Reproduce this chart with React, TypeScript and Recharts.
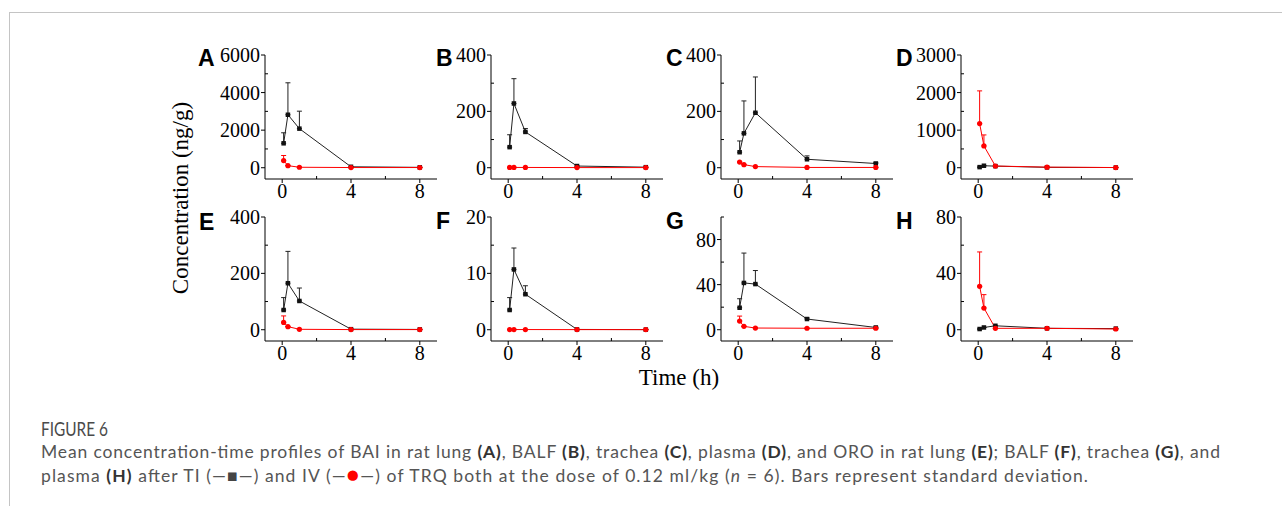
import React from "react";
import { LineChart, Line, XAxis, YAxis, ErrorBar } from "recharts";

// sampling times (h)
const TIMES = [0.083, 0.333, 1, 4, 8];

// BAI: TI (black) and IV (red), mean and SD
const baiLungTi = [1300, 2820, 2080, 50, 20];
const baiLungTiSd = [560, 1700, 930, 0, 0];
const baiLungIv = [380, 110, 25, 10, 10];
const baiLungIvSd = [270, 0, 0, 0, 0];

const baiBalfTi = [73, 228, 127, 6, 2];
const baiBalfTiSd = [44, 88, 12, 0, 0];
const baiBalfIv = [1, 1, 1, 0.5, 0.5];
const baiBalfIvSd = [0, 0, 0, 0, 0];

const baiTracheaTi = [55, 122, 195, 30, 15];
const baiTracheaTiSd = [40, 115, 127, 12, 4];
const baiTracheaIv = [20, 11, 4, 1, 1];
const baiTracheaIvSd = [0, 0, 0, 0, 0];

const baiPlasmaTi = [16, 53, 43, 10, 5];
const baiPlasmaTiSd = [0, 0, 0, 0, 0];
const baiPlasmaIv = [1175, 580, 45, 16, 5];
const baiPlasmaIvSd = [870, 293, 0, 0, 0];

// ORO
const oroLungTi = [70, 165, 102, 2, 1];
const oroLungTiSd = [44, 113, 46, 0, 0];
const oroLungIv = [26, 11, 1.5, 0.5, 0.5];
const oroLungIvSd = [23, 0, 0, 0, 0];

const oroBalfTi = [3.5, 10.7, 6.3, 0.05, 0.02];
const oroBalfTiSd = [2.2, 3.8, 1.5, 0, 0];
const oroBalfIv = [0.03, 0.03, 0.03, 0.02, 0.02];
const oroBalfIvSd = [0, 0, 0, 0, 0];

const oroTracheaTi = [19.5, 41.5, 40.5, 9.5, 2];
const oroTracheaTiSd = [8, 26.5, 12, 1, 0.5];
const oroTracheaIv = [7.7, 3, 1.5, 1.3, 1.3];
const oroTracheaIvSd = [4.4, 0, 0, 0, 0];

const oroPlasmaTi = [0.5, 1.6, 2.8, 1, 0.8];
const oroPlasmaTiSd = [0, 0, 0, 0, 0];
const oroPlasmaIv = [30.8, 15.4, 1, 1, 0.5];
const oroPlasmaIvSd = [24.4, 9.5, 0, 0, 0];

const X_TICKS = [0, 2, 4, 6, 8];

const SERIF = '"Liberation Serif", "Times New Roman", serif';
const SANS = '"Liberation Sans", Arial, sans-serif';

const build = (ti: number[], tiSd: number[], iv: number[], ivSd: number[]) =>
  TIMES.map((t, i) => ({
    t,
    ti: ti[i],
    tiErr: [0, tiSd[i]],
    iv: iv[i],
    ivErr: [0, ivSd[i]],
  }));

const panels = [
  { letter: "A", left: 265, top: 55, max: 6000, major: [0, 2000, 4000, 6000], minor: [1000, 3000, 5000], data: build(baiLungTi, baiLungTiSd, baiLungIv, baiLungIvSd) },
  { letter: "B", left: 491, top: 55, max: 400, major: [0, 200, 400], minor: [100, 300], data: build(baiBalfTi, baiBalfTiSd, baiBalfIv, baiBalfIvSd) },
  { letter: "C", left: 721, top: 55, max: 400, major: [0, 200, 400], minor: [100, 300], data: build(baiTracheaTi, baiTracheaTiSd, baiTracheaIv, baiTracheaIvSd) },
  { letter: "D", left: 961, top: 55, max: 3000, major: [0, 1000, 2000, 3000], minor: [500, 1500, 2500], data: build(baiPlasmaTi, baiPlasmaTiSd, baiPlasmaIv, baiPlasmaIvSd) },
  { letter: "E", left: 265, top: 217, max: 400, major: [0, 200, 400], minor: [100, 300], data: build(oroLungTi, oroLungTiSd, oroLungIv, oroLungIvSd) },
  { letter: "F", left: 491, top: 217, max: 20, major: [0, 10, 20], minor: [5, 15], data: build(oroBalfTi, oroBalfTiSd, oroBalfIv, oroBalfIvSd) },
  { letter: "G", left: 721, top: 217, max: 100, major: [0, 40, 80], minor: [20, 60, 100], data: build(oroTracheaTi, oroTracheaTiSd, oroTracheaIv, oroTracheaIvSd) },
  { letter: "H", left: 961, top: 217, max: 80, major: [0, 40, 80], minor: [20, 60], data: build(oroPlasmaTi, oroPlasmaTiSd, oroPlasmaIv, oroPlasmaIvSd) },
];

const letterPos: Record<string, [number, number]> = {
  A: [198, 66], B: [436, 66], C: [666, 66], D: [896, 66],
  E: [199, 230], F: [436, 229], G: [666, 229], H: [896, 229],
};

const XTick = (props: any) => {
  const { x, y, payload } = props;
  const v = payload.value;
  const ay = y - 5;
  const isMajor = v % 4 === 0;
  return (
    <g>
      {isMajor ? (
        <line x1={x} y1={ay} x2={x} y2={ay + 4} stroke="#000" />
      ) : (
        <line x1={x} y1={ay} x2={x} y2={ay - 3} stroke="#000" />
      )}
      {isMajor && (
        <text x={x} y={y} dy="0.71em" textAnchor="middle" fontSize={20} fontFamily={SERIF} fill="#000">
          {v}
        </text>
      )}
    </g>
  );
};

const makeYTick = (major: number[]) => (props: any) => {
  const { x, y, payload } = props;
  const v = payload.value;
  const ax = x + 5;
  const isMajor = major.includes(v);
  return (
    <g>
      {isMajor ? (
        <line x1={ax - 4} y1={y} x2={ax} y2={y} stroke="#000" />
      ) : (
        <line x1={ax} y1={y} x2={ax + 3} y2={y} stroke="#000" />
      )}
      {isMajor && (
        <text x={x} y={y} dy="0.355em" textAnchor="end" fontSize={20} fontFamily={SERIF} fill="#000">
          {v}
        </text>
      )}
    </g>
  );
};

const square = (p: any) => (
  <rect key={`s-${p.index}`} x={p.cx - 2.25} y={p.cy - 2.25} width={4.5} height={4.5} fill="#111" />
);
const circle = (p: any) => (
  <circle key={`c-${p.index}`} cx={p.cx} cy={p.cy} r={2.6} fill="#ff0000" />
);

const Y_W = 60;
const M_TOP = 12;

const Panel = ({ p }: { p: (typeof panels)[number] }) => {
  const ticks = [...p.major, ...p.minor].sort((a, b) => a - b);
  return (
    <div style={{ position: "absolute", left: p.left - Y_W, top: p.top - M_TOP }}>
      <LineChart width={Y_W + 172 + 12} height={M_TOP + 124 + 30} data={p.data} margin={{ top: M_TOP, right: 12, left: 0, bottom: 0 }}>
        <XAxis
          dataKey="t"
          type="number"
          domain={[-1, 9]}
          ticks={X_TICKS}
          allowDataOverflow
          height={30}
          stroke="#000"
          tickLine={false}
          tickSize={4}
          tickMargin={1}
          tick={XTick}
          interval={0}
        />
        <YAxis
          type="number"
          domain={[-p.max / 10, p.max]}
          ticks={ticks}
          allowDataOverflow
          width={Y_W}
          stroke="#000"
          tickLine={false}
          tickSize={4}
          tickMargin={1}
          tick={makeYTick(p.major)}
          interval={0}
        />
        <Line dataKey="ti" type="linear" stroke="#222" strokeWidth={1} dot={square} isAnimationActive={false}>
          <ErrorBar dataKey="tiErr" direction="y" width={2.5} stroke="#222" strokeWidth={1} isAnimationActive={false} />
        </Line>
        <Line dataKey="iv" type="linear" stroke="#ff0000" strokeWidth={1} dot={circle} isAnimationActive={false}>
          <ErrorBar dataKey="ivErr" direction="y" width={2.5} stroke="#ff0000" strokeWidth={1} isAnimationActive={false} />
        </Line>
      </LineChart>
    </div>
  );
};

const CAP = "#555555";
const CAP_BOLD = "#333333";

export default function App() {
  return (
    <div style={{ position: "absolute", left: 0, top: 0, width: 1282, height: 506, background: "#fff", overflow: "hidden" }}>
      {panels.map((p) => (
        <Panel key={p.letter} p={p} />
      ))}
      <svg width={1282} height={506} style={{ position: "absolute", left: 0, top: 0, pointerEvents: "none" }}>
        <line x1={9.5} y1={12.5} x2={1282} y2={12.5} stroke="#c4c4c4" />
        <line x1={9.5} y1={12} x2={9.5} y2={506} stroke="#c4c4c4" />
        {panels.map((p) => (
          <text key={p.letter} x={letterPos[p.letter][0]} y={letterPos[p.letter][1]} fontFamily={SANS} fontWeight="bold" fontSize={23} fill="#000">
            {p.letter}
          </text>
        ))}
        <text x={0} y={0} transform="translate(188 198) rotate(-90)" textAnchor="middle" fontFamily={SERIF} fontSize={23} fill="#000">
          Concentration (ng/g)
        </text>
        <text x={679} y={385} textAnchor="middle" fontFamily={SERIF} fontSize={23} fill="#000">
          Time (h)
        </text>
        <text x={41} y={436} fontFamily="Lato, sans-serif" fontSize={18.5} fill="#4a4a4a" textLength={67} lengthAdjust="spacingAndGlyphs">
          FIGURE 6
        </text>
        <text x={41} y={458} fontFamily="Lato, sans-serif" fontSize={17.5} fill={CAP} textLength={1179} lengthAdjust="spacing">
          Mean concentration-time profiles of BAI in rat lung <tspan fontWeight="bold" fill={CAP_BOLD}>(A)</tspan>, BALF{" "}
          <tspan fontWeight="bold" fill={CAP_BOLD}>(B)</tspan>, trachea <tspan fontWeight="bold" fill={CAP_BOLD}>(C)</tspan>, plasma{" "}
          <tspan fontWeight="bold" fill={CAP_BOLD}>(D)</tspan>, and ORO in rat lung <tspan fontWeight="bold" fill={CAP_BOLD}>(E)</tspan>; BALF{" "}
          <tspan fontWeight="bold" fill={CAP_BOLD}>(F)</tspan>, trachea <tspan fontWeight="bold" fill={CAP_BOLD}>(G)</tspan>, and
        </text>
        <text x={41} y={482} fontFamily="Lato, sans-serif" fontSize={17.5} fill={CAP} textLength={1047} lengthAdjust="spacing">
          plasma <tspan fontWeight="bold" fill={CAP_BOLD}>(H)</tspan> after TI (—<tspan fill="#444">■</tspan>—) and IV (—
          <tspan fill="#ff0000" fontSize={21}>●</tspan>—) of TRQ both at the dose of 0.12 ml/kg (<tspan fontStyle="italic">n</tspan> = 6). Bars represent
          standard deviation.
        </text>
      </svg>
    </div>
  );
}
